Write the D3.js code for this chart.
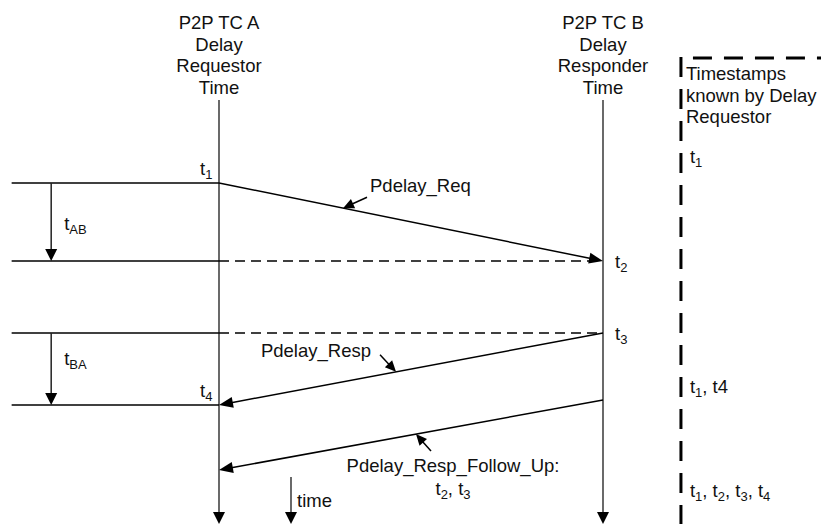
<!DOCTYPE html>
<html>
<head>
<meta charset="utf-8">
<script src="https://cdn.jsdelivr.net/npm/d3@7"></script>
<style>
  body { margin: 0; background: #fff; }
  svg text { font-family: "Liberation Sans", Arial, Helvetica, sans-serif; font-size: 18.5px; fill: #111; }
</style>
</head>
<body>
<svg id="chart" width="821" height="524"></svg>
<script>
// Lane headers (one entry per text line).
var headerA = ["P2P TC A", "Delay", "Requestor", "Time"];
var headerB = ["P2P TC B", "Delay", "Responder", "Time"];
var knownHeader = ["Timestamps", "known by Delay", "Requestor"];

// Timestamps, in time units down the page. Braces mark a subscript.
var eventNames = ["t{1}", "t{2}", "t{3}", "t{4}"];
var eventTimes = [1.83, 2.61, 3.33, 4.05];
var eventLane = ["A", "B", "B", "A"];

// Messages between the two clocks.
var msgNames = ["Pdelay_Req", "Pdelay_Resp", "Pdelay_Resp_Follow_Up:"];
var msgExtra = ["", "", "t{2}, t{3}"];
var msgFrom = ["A", "B", "B"];
var msgTo = ["B", "A", "A"];
var msgSend = [1.83, 3.33, 4.00];
var msgRecv = [2.61, 4.05, 4.70];

// Intervals measured on the left.
var spanNames = ["t{AB}", "t{BA}"];
var spanStart = [1.83, 3.33];
var spanEnd = [2.61, 4.05];

// What the delay requestor knows, and when.
var knownText = ["t{1}", "t{1}, t4", "t{1}, t{2}, t{3}, t{4}"];
var knownTimes = [1.63, 3.93, 4.97];

var svg = d3.select("#chart");

// Time runs down the page; lanes are placed on a 0 (A) .. 1 (B) axis.
var y = d3.scaleLinear().domain([0, 5.24]).range([0, 524]);
var x = d3.scaleLinear().domain([0, 1]).range([219, 603]);
var lane = { A: 0, B: 1, left: -0.54, span: -0.437, clock: 0.1875, known: 1.203 };

// Draws a filled triangle with its tip at (tx, ty) pointing along angle a.
function head(tx, ty, a, len, wid) {
  var c = Math.cos(a), s = Math.sin(a);
  var bx = tx - c * len, by = ty - s * len;
  var pts = [[tx, ty], [bx - s * wid / 2, by + c * wid / 2], [bx + s * wid / 2, by - c * wid / 2]];
  svg.append("polygon").attr("points", pts.map(function(p) { return p.join(","); }).join(" "))
    .attr("fill", "#000");
}

// Line with an arrow head at its end.
function arrow(x1, y1, x2, y2, len, wid, color, w) {
  var a = Math.atan2(y2 - y1, x2 - x1);
  svg.append("line")
    .attr("x1", x1).attr("y1", y1)
    .attr("x2", x2 - Math.cos(a) * len * 0.8).attr("y2", y2 - Math.sin(a) * len * 0.8)
    .attr("stroke", color).attr("stroke-width", w);
  head(x2, y2, a, len, wid);
}

// Text with {sub} parts rendered as subscripts.
function label(str, px, py, anchor) {
  var t = svg.append("text").attr("x", px).attr("y", py).attr("text-anchor", anchor || "start");
  var parts = str.split(/(\{[^}]*\})/).filter(function(p) { return p; });
  var low = false;
  parts.forEach(function(p) {
    if (p[0] === "{") {
      t.append("tspan").attr("dy", 4).attr("font-size", 13).text(p.slice(1, -1));
      low = true;
    } else {
      t.append("tspan").attr("dy", low ? -4 : 0).text(p);
      low = false;
    }
  });
  return t;
}

// Lane headers.
[[headerA, "A"], [headerB, "B"]].forEach(function(h) {
  h[0].forEach(function(line, i) {
    svg.append("text").attr("x", x(lane[h[1]])).attr("y", 29 + i * 21.5)
      .attr("text-anchor", "middle").text(line);
  });
});

// Lifelines and the time arrow.
["A", "B"].forEach(function(l) {
  arrow(x(lane[l]), y(1.0), x(lane[l]), y(5.24), 12, 12, "#444", 1.6);
});
arrow(x(lane.clock), y(4.77), x(lane.clock), y(5.24), 12, 12, "#444", 1.6);
svg.append("text").attr("x", x(lane.clock) + 6).attr("y", y(5.07)).text("time");

// Horizontal reference lines on the requestor side.
eventTimes.forEach(function(t) {
  svg.append("line").attr("x1", x(lane.left)).attr("x2", x(lane.A))
    .attr("y1", y(t)).attr("y2", y(t)).attr("stroke", "#000").attr("stroke-width", 1.5);
});
// Dashed projections at the responder timestamps.
eventTimes.forEach(function(t, i) {
  if (eventLane[i] !== "B") return;
  svg.append("line").attr("x1", x(lane.A)).attr("x2", x(lane.B) - (i === 1 ? 8 : 0))
    .attr("y1", y(t)).attr("y2", y(t)).attr("stroke", "#000").attr("stroke-width", 1.4)
    .attr("stroke-dasharray", "10,6");
});

// Interval arrows.
spanNames.forEach(function(n, i) {
  arrow(x(lane.span), y(spanStart[i]), x(lane.span), y(spanEnd[i]), 12, 12, "#222", 1.5);
});
label(spanNames[0], x(lane.span) + 13, y(2.30));
label(spanNames[1], x(lane.span) + 13, y(3.65));

// Timestamp labels on the lifelines.
eventNames.forEach(function(n, i) {
  if (eventLane[i] === "A") label(n, x(lane.A) - 19, y(eventTimes[i]) - 8, "start");
  else label(n, x(lane.B) + 12, y(eventTimes[i]) + 7);
});

// Messages, each with a caption and a small pointer arrow onto the line.
var msgLayout = [
  { f: 0.323, dx: 24, dy: -11, lx: 370, ly: 192, anchor: "start" },
  { f: 0.539, dx: -16, dy: -17, lx: 371, ly: 357, anchor: "end" },
  { f: 0.487, dx: 15, dy: 17, lx: 453, ly: 472, anchor: "middle" }
];
msgNames.forEach(function(n, i) {
  var x1 = x(lane[msgFrom[i]]), y1 = y(msgSend[i]);
  var x2 = x(lane[msgTo[i]]), y2 = y(msgRecv[i]);
  arrow(x1, y1, x2, y2, 14, 11, "#000", 1.5);
  var L = msgLayout[i];
  var px = x1 + (x2 - x1) * L.f, py = y1 + (y2 - y1) * L.f;
  arrow(px + L.dx, py + L.dy, px, py, 11, 10, "#000", 1.5);
  svg.append("text").attr("x", L.lx).attr("y", L.ly).attr("text-anchor", L.anchor).text(n);
  if (msgExtra[i]) label(msgExtra[i], L.lx, L.ly + 23, "middle");
});

// Column of timestamps known by the requestor.
svg.append("line").attr("x1", x(lane.known)).attr("x2", x(lane.known))
  .attr("y1", 57).attr("y2", 524).attr("stroke", "#000").attr("stroke-width", 3)
  .attr("stroke-dasharray", "20,12");
svg.append("line").attr("x1", x(lane.known) + 12).attr("x2", 821)
  .attr("y1", 58).attr("y2", 58).attr("stroke", "#000").attr("stroke-width", 3)
  .attr("stroke-dasharray", "19,12");
knownHeader.forEach(function(line, i) {
  svg.append("text").attr("x", x(lane.known) + 5).attr("y", 80 + i * 21.5).text(line);
});
knownText.forEach(function(s, i) {
  label(s, x(lane.known) + 9, y(knownTimes[i]));
});
</script>
</body>
</html>
